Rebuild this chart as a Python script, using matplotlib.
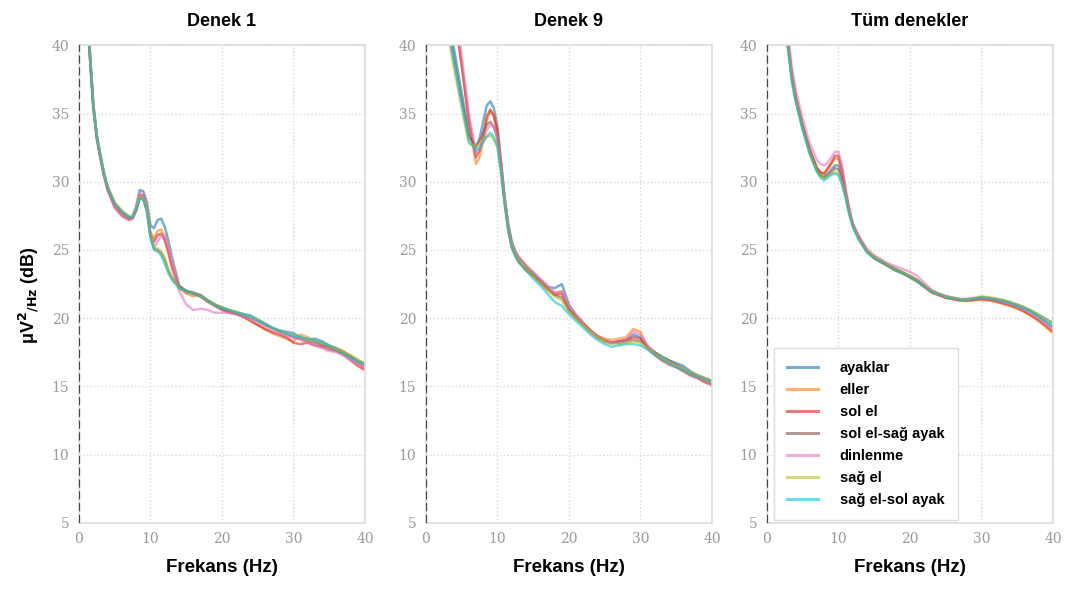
import matplotlib.pyplot as plt

# Frekans ekseni (Hz) - 5-13 Hz arası daha sık örneklenmiş
frekans = [1, 1.5, 2, 2.5, 3, 3.5, 4,
           5, 6, 7,
           7.5, 8, 8.5, 9, 9.5, 10, 10.5, 11, 11.5, 12, 12.5, 13,
           14, 15, 16, 17, 18, 19, 20, 21, 22, 23, 24, 25, 26, 27,
           28, 29, 30, 31, 32, 33, 34, 35, 36, 37, 38, 39, 40]

# Koşul isimleri ve renkleri
kosullar = ["ayaklar", "eller", "sol el", "sol el-sağ ayak", "dinlenme", "sağ el", "sağ el-sol ayak"]
renkler = ["#1f77b4", "#ff7f0e", "#d62728", "#8c564b", "#e377c2", "#bcbd22", "#17becf"]

# Denek 1 - güç spektrumu (dB)
d1_ayaklar = [46.2, 39.7, 35.7, 33.4, 31.9, 30.6, 29.6, 28.3, 27.7, 27.3,
              27.5, 28.2, 29.4, 29.3, 28.5, 26.8, 26.6, 27.2, 27.3, 26.7, 25.7, 24.5,
              22.4, 22.0, 21.8, 21.6, 21.3, 21.0, 20.8, 20.6, 20.4, 20.3, 20.2, 19.9, 19.6, 19.3,
              19.1, 19.0, 18.9, 18.6, 18.4, 18.5, 18.3, 18.0, 17.8, 17.5, 17.2, 16.9, 16.7]
d1_eller = [46.0, 39.5, 35.5, 33.2, 31.8, 30.6, 29.5, 28.3, 27.7, 27.4,
            27.4, 28.0, 28.9, 28.9, 28.0, 26.3, 25.9, 26.4, 26.5, 26.0, 25.1, 24.0,
            22.4, 21.8, 21.6, 21.7, 21.3, 21.0, 20.7, 20.5, 20.3, 20.1, 19.8, 19.5, 19.2, 18.9,
            18.7, 18.5, 18.3, 18.8, 18.6, 18.3, 18.1, 17.9, 17.8, 17.6, 17.1, 16.7, 16.3]
d1_sol_el = [45.8, 39.3, 35.4, 33.1, 31.7, 30.4, 29.4, 28.1, 27.5, 27.2,
             27.3, 27.9, 29.0, 29.0, 28.1, 26.1, 25.6, 26.1, 26.2, 25.7, 24.8, 23.7,
             22.2, 21.9, 21.8, 21.6, 21.2, 20.9, 20.6, 20.4, 20.3, 20.1, 19.8, 19.5, 19.2, 19.0,
             18.8, 18.6, 18.2, 18.1, 18.2, 18.0, 17.9, 17.7, 17.6, 17.3, 16.9, 16.5, 16.2]
d1_sol_el_sag_ayak = [46.0, 39.5, 35.6, 33.3, 31.9, 30.6, 29.6, 28.4, 27.8, 27.4,
                      27.4, 27.9, 28.8, 28.7, 27.9, 26.0, 25.1, 25.0, 24.8, 24.3, 23.5, 23.0,
                      22.3, 22.0, 21.9, 21.7, 21.3, 21.0, 20.7, 20.5, 20.4, 20.2, 20.0, 19.8, 19.5, 19.3,
                      19.0, 18.8, 18.6, 18.5, 18.3, 18.2, 18.0, 17.9, 17.6, 17.5, 17.2, 16.8, 16.5]
d1_dinlenme = [46.3, 39.8, 35.7, 33.3, 31.8, 30.5, 29.5, 28.2, 27.6, 27.3,
               27.4, 28.1, 29.2, 29.0, 28.1, 26.0, 25.2, 25.6, 26.1, 26.0, 25.3, 24.2,
               22.0, 21.0, 20.6, 20.7, 20.6, 20.4, 20.4, 20.4, 20.3, 20.1, 19.9, 19.7, 19.4, 19.1,
               18.9, 18.7, 18.6, 18.4, 18.2, 18.0, 17.8, 17.6, 17.5, 17.3, 17.0, 16.7, 16.4]
d1_sag_el = [46.1, 39.6, 35.7, 33.4, 32.0, 30.7, 29.7, 28.5, 27.9, 27.5,
             27.5, 28.0, 28.9, 28.8, 28.0, 26.1, 25.2, 25.1, 24.9, 24.4, 23.6, 23.0,
             22.2, 21.9, 21.8, 21.6, 21.3, 21.0, 20.8, 20.6, 20.5, 20.3, 20.1, 19.9, 19.6, 19.3,
             19.1, 18.9, 18.8, 18.6, 18.4, 18.4, 18.2, 18.0, 17.7, 17.5, 17.3, 17.0, 16.6]
d1_sag_el_sol_ayak = [46.0, 39.5, 35.6, 33.3, 31.9, 30.6, 29.6, 28.4, 27.8, 27.4,
                      27.4, 27.9, 28.8, 28.7, 27.8, 25.9, 25.0, 24.9, 24.6, 24.0, 23.3, 22.8,
                      22.2, 22.0, 21.8, 21.6, 21.3, 21.0, 20.7, 20.6, 20.4, 20.3, 20.1, 19.8, 19.6, 19.3,
                      19.1, 18.9, 18.7, 18.6, 18.5, 18.4, 18.2, 18.0, 17.7, 17.4, 17.1, 16.8, 16.6]

# Denek 9
d9_ayaklar = [56.0, 52.0, 48.5, 45.8, 43.5, 41.0, 39.5, 36.5, 33.5, 32.5,
              33.2, 34.4, 35.6, 35.9, 35.4, 34.0, 31.5, 28.9, 26.9, 25.6, 24.9, 24.4,
              23.8, 23.3, 22.8, 22.3, 22.2, 22.5, 21.0, 20.2, 19.6, 19.1, 18.7, 18.4, 18.2, 18.3,
              18.4, 18.8, 18.6, 17.9, 17.5, 17.2, 16.9, 16.7, 16.5, 16.1, 15.8, 15.6, 15.4]
d9_eller = [62.0, 58.0, 54.0, 50.5, 47.5, 44.5, 42.6, 38.6, 34.4, 31.3,
            31.8, 33.0, 34.5, 35.2, 34.9, 33.7, 31.3, 28.6, 26.6, 25.3, 24.7, 24.2,
            23.6, 23.1, 22.7, 22.2, 21.8, 22.0, 20.7, 20.1, 19.6, 19.1, 18.7, 18.5, 18.4, 18.5,
            18.6, 19.2, 19.0, 17.9, 17.4, 17.0, 16.8, 16.5, 16.2, 15.9, 15.7, 15.4, 15.2]
d9_sol_el = [62.0, 58.0, 54.0, 50.3, 47.3, 44.3, 42.4, 38.5, 34.5, 31.8,
             32.3, 33.4, 34.8, 35.3, 34.8, 33.6, 31.2, 28.5, 26.5, 25.2, 24.6, 24.1,
             23.5, 23.1, 22.6, 22.1, 21.7, 21.8, 20.6, 20.1, 19.6, 19.1, 18.6, 18.3, 18.2, 18.3,
             18.4, 18.6, 18.5, 17.8, 17.3, 16.9, 16.6, 16.4, 16.1, 15.8, 15.6, 15.3, 15.1]
d9_sol_el_sag_ayak = [55.0, 51.5, 48.0, 45.2, 42.8, 40.3, 38.8, 36.0, 33.3, 32.6,
                      33.0, 33.6, 34.2, 34.4, 34.0, 33.2, 31.0, 28.7, 26.8, 25.5, 24.8, 24.4,
                      23.8, 23.2, 22.7, 22.2, 21.7, 21.5, 20.6, 20.0, 19.5, 19.0, 18.6, 18.3, 18.2, 18.2,
                      18.3, 18.4, 18.3, 17.9, 17.5, 17.1, 16.9, 16.6, 16.3, 16.0, 15.8, 15.6, 15.4]
d9_dinlenme = [63.0, 59.0, 55.0, 51.5, 48.3, 45.3, 43.2, 39.2, 35.0, 32.1,
               32.4, 33.0, 33.8, 34.2, 34.0, 33.3, 31.3, 28.8, 26.9, 25.6, 24.9, 24.5,
               23.9, 23.4, 22.9, 22.4, 21.9, 21.9, 20.9, 20.3, 19.7, 19.1, 18.6, 18.3, 18.2, 18.2,
               18.4, 19.0, 18.8, 18.0, 17.4, 17.0, 16.7, 16.5, 16.2, 15.9, 15.7, 15.5, 15.3]
d9_sag_el = [53.0, 50.0, 47.0, 44.5, 42.0, 39.5, 38.1, 35.4, 32.8, 32.6,
             32.8, 33.1, 33.3, 33.4, 33.1, 32.5, 30.8, 28.6, 26.7, 25.4, 24.7, 24.3,
             23.7, 23.1, 22.6, 22.1, 21.6, 21.3, 20.5, 20.0, 19.5, 19.0, 18.6, 18.3, 18.1, 18.1,
             18.2, 18.3, 18.2, 17.8, 17.4, 17.1, 16.8, 16.5, 16.3, 16.0, 15.8, 15.6, 15.4]
d9_sag_el_sol_ayak = [54.0, 50.5, 47.5, 45.0, 42.5, 40.0, 38.5, 35.7, 33.0, 32.3,
                      32.5, 32.9, 33.3, 33.6, 33.3, 32.6, 30.6, 28.4, 26.5, 25.2, 24.5, 24.1,
                      23.5, 22.9, 22.4, 21.8, 21.2, 20.9, 20.3, 19.8, 19.3, 18.8, 18.4, 18.1, 17.9, 18.0,
                      18.1, 18.1, 18.0, 17.7, 17.3, 17.0, 16.7, 16.4, 16.2, 15.9, 15.7, 15.5, 15.3]

# Tüm denekler (ortalama)
tum_ayaklar = [50.3, 47.3, 44.3, 41.8, 39.9, 37.7, 36.2, 34.1, 32.3, 30.9,
               30.5, 30.35, 30.6, 30.9, 31.2, 31.2, 30.4, 29.1, 27.8, 26.9, 26.3, 25.8,
               24.9, 24.5, 24.2, 23.9, 23.6, 23.35, 23.1, 22.8, 22.4, 22.0, 21.8, 21.6, 21.5, 21.4,
               21.4, 21.45, 21.55, 21.5, 21.4, 21.3, 21.15, 21.0, 20.8, 20.55, 20.25, 19.95, 19.65]
tum_eller = [50.5, 47.5, 44.5, 42.0, 40.0, 37.8, 36.3, 34.1, 32.3, 31.0,
             30.7, 30.6, 30.9, 31.3, 31.7, 31.7, 30.8, 29.3, 27.9, 26.9, 26.3, 25.8,
             24.9, 24.4, 24.1, 23.8, 23.5, 23.3, 23.0, 22.7, 22.3, 21.9, 21.7, 21.5, 21.4, 21.3,
             21.25, 21.3, 21.35, 21.3, 21.2, 21.05, 20.9, 20.7, 20.45, 20.15, 19.8, 19.35, 18.9]
tum_sol_el = [50.5, 47.5, 44.5, 42.0, 40.0, 37.8, 36.3, 34.1, 32.3, 31.0,
              30.7, 30.6, 31.0, 31.4, 31.9, 31.9, 30.9, 29.3, 27.9, 26.9, 26.3, 25.8,
              24.9, 24.4, 24.1, 23.8, 23.5, 23.3, 23.0, 22.7, 22.3, 21.9, 21.7, 21.5, 21.4, 21.3,
              21.3, 21.35, 21.4, 21.35, 21.25, 21.1, 20.95, 20.75, 20.5, 20.2, 19.85, 19.45, 19.0]
tum_sol_el_sag_ayak = [50.0, 47.0, 44.0, 41.5, 39.7, 37.5, 36.0, 33.9, 32.1, 30.8,
                       30.45, 30.3, 30.5, 30.7, 31.0, 30.9, 30.2, 29.0, 27.8, 26.8, 26.2, 25.7,
                       24.9, 24.5, 24.2, 23.9, 23.6, 23.35, 23.1, 22.8, 22.4, 22.0, 21.8, 21.6, 21.45, 21.35,
                       21.35, 21.4, 21.5, 21.45, 21.35, 21.25, 21.1, 20.9, 20.7, 20.45, 20.1, 19.7, 19.3]
tum_dinlenme = [51.0, 48.0, 45.0, 42.5, 40.5, 38.3, 36.8, 34.6, 32.8, 31.6,
                31.3, 31.2, 31.4, 31.8, 32.2, 32.2, 31.2, 29.5, 28.1, 27.0, 26.4, 25.9,
                25.1, 24.6, 24.3, 24.0, 23.8, 23.6, 23.4, 23.1, 22.6, 22.1, 21.8, 21.6, 21.5, 21.4,
                21.35, 21.4, 21.5, 21.45, 21.35, 21.2, 21.05, 20.85, 20.65, 20.35, 20.0, 19.6, 19.2]
tum_sag_el = [50.0, 47.0, 44.0, 41.5, 39.6, 37.4, 36.0, 33.9, 32.1, 30.8,
              30.45, 30.25, 30.4, 30.6, 30.75, 30.6, 29.9, 28.9, 27.7, 26.8, 26.2, 25.7,
              24.9, 24.5, 24.2, 23.9, 23.6, 23.35, 23.1, 22.8, 22.4, 22.0, 21.8, 21.6, 21.5, 21.4,
              21.4, 21.5, 21.6, 21.55, 21.45, 21.35, 21.2, 21.0, 20.8, 20.55, 20.25, 19.9, 19.55]
tum_sag_el_sol_ayak = [49.8, 46.8, 43.8, 41.3, 39.5, 37.3, 35.9, 33.8, 32.0, 30.7,
                       30.3, 30.1, 30.3, 30.5, 30.6, 30.5, 29.8, 28.8, 27.6, 26.7, 26.1, 25.6,
                       24.8, 24.4, 24.1, 23.8, 23.5, 23.25, 23.0, 22.7, 22.3, 21.95, 21.75, 21.55, 21.45, 21.35,
                       21.35, 21.45, 21.5, 21.45, 21.35, 21.25, 21.1, 20.9, 20.7, 20.45, 20.1, 19.75, 19.4]

paneller = [
    ("Denek 1", [d1_ayaklar, d1_eller, d1_sol_el, d1_sol_el_sag_ayak, d1_dinlenme, d1_sag_el, d1_sag_el_sol_ayak]),
    ("Denek 9", [d9_ayaklar, d9_eller, d9_sol_el, d9_sol_el_sag_ayak, d9_dinlenme, d9_sag_el, d9_sag_el_sol_ayak]),
    ("Tüm denekler", [tum_ayaklar, tum_eller, tum_sol_el, tum_sol_el_sag_ayak, tum_dinlenme, tum_sag_el, tum_sag_el_sol_ayak]),
]

fig = plt.figure(figsize=(10.73, 5.90), dpi=100)
sol_kenarlar = [0.0736, 0.3970, 0.7148]

for i, (baslik, seriler) in enumerate(paneller):
    ax = fig.add_axes([sol_kenarlar[i], 0.114, 0.2665, 0.809])
    for seri, etiket, renk in zip(seriler, kosullar, renkler):
        ax.plot(frekans, seri, color=renk, lw=1.8, alpha=0.6, label=etiket)

    # 0 Hz'de kesikli dikey çizgi
    ax.axvline(0, color="#444444", ls="--", lw=1.6, zorder=5)

    ax.set_xlim(0, 40)
    ax.set_ylim(5, 40)
    ax.set_xticks([0, 10, 20, 30, 40])
    ax.set_yticks([5, 10, 15, 20, 25, 30, 35, 40])
    ax.grid(True, ls=":", color="#d8d8d8", lw=1)
    ax.set_axisbelow(True)
    ax.tick_params(length=0, labelcolor="#9a9a9a", labelsize=10, pad=7)
    for lbl in ax.get_xticklabels() + ax.get_yticklabels():
        lbl.set_family("DejaVu Serif")
    for sp in ax.spines.values():
        sp.set_color("#dddddd")
        sp.set_linewidth(1.2)

    ax.set_title(baslik, fontsize=13, fontweight="bold", family="Liberation Sans", pad=14)
    ax.set_xlabel("Frekans (Hz)", fontsize=13.5, fontweight="bold", family="Liberation Sans", labelpad=9)

    if i == 2:
        leg = ax.legend(loc="lower left", bbox_to_anchor=(0.025, 0.005), borderaxespad=0,
                        prop={"family": "Liberation Sans", "weight": "bold", "size": 10.5},
                        handlelength=2.1, handletextpad=1.5, labelspacing=0.55, borderpad=0.9,
                        frameon=True, fancybox=False, edgecolor="#dddddd", framealpha=1)
        for h in leg.get_lines():
            h.set_linewidth(2.2)

# y ekseni etiketi
fig.text(0.027, 0.5, "μV$^{\\mathbf{2}}$$_{\\mathbf{/Hz}}$ (dB)", rotation=90, ha="center", va="center",
         fontsize=13, fontweight="bold", family="Liberation Sans")

plt.savefig("out.png", dpi=100)
